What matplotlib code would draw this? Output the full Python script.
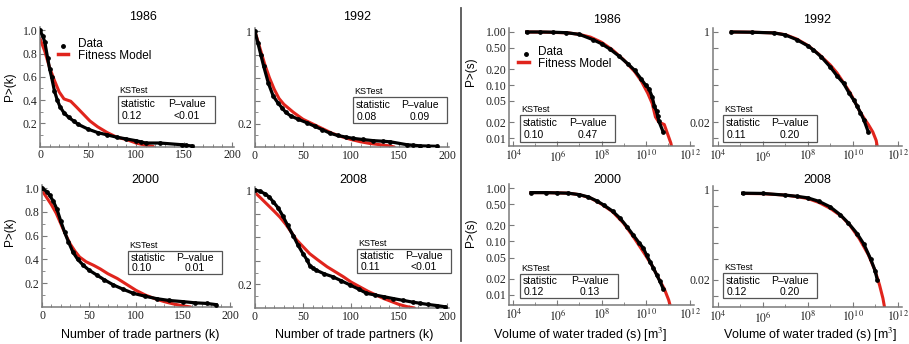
import numpy as np
import matplotlib
matplotlib.use('Agg')
import matplotlib.pyplot as plt
from matplotlib.patches import Rectangle
from matplotlib.lines import Line2D
from matplotlib.ticker import FixedLocator, NullLocator, FixedFormatter

plt.rcParams['font.family'] = ['Liberation Serif', 'DejaVu Serif']
plt.rcParams['mathtext.fontset'] = 'stix'
SANS = ['Liberation Sans', 'DejaVu Sans']

# ---------------- data ----------------
years = ['1986', '1992', '2000', '2008']

# Degree distributions P>(k)
k_1986_data = [0, 3, 5, 8, 10, 12, 15, 18, 21, 25, 30, 35, 40, 50, 60, 70, 80, 90, 100, 105, 110, 125, 148, 152, 158]
p_1986_data = [1.0, 0.95, 0.90, 0.76, 0.67, 0.60, 0.48, 0.40, 0.34, 0.29, 0.25, 0.22, 0.19, 0.15, 0.12, 0.10, 0.08, 0.065, 0.05, 0.04, 0.03, 0.03, 0.015, 0.01, 0.005]
k_1986_model = [0, 5, 10, 15, 20, 25, 32, 38, 45, 52, 60, 70, 80, 90, 100, 110, 118]
p_1986_model = [0.93, 0.82, 0.68, 0.57, 0.47, 0.41, 0.39, 0.34, 0.28, 0.22, 0.17, 0.12, 0.08, 0.06, 0.03, 0.01, 0.0]

k_1992_data = [0, 3, 6, 9, 14, 19, 24, 28, 32, 37, 45, 54, 62, 70, 78, 86, 95, 102, 112, 123, 133, 141, 158, 165, 172, 180, 190]
p_1992_data = [1.0, 0.90, 0.80, 0.70, 0.55, 0.44, 0.38, 0.34, 0.30, 0.27, 0.24, 0.21, 0.18, 0.15, 0.12, 0.10, 0.085, 0.075, 0.065, 0.055, 0.05, 0.045, 0.02, 0.015, 0.01, 0.008, 0.006]
k_1992_model = [0, 5, 10, 15, 20, 25, 30, 40, 50, 60, 70, 80, 90, 100, 110, 120, 130, 140, 145]
p_1992_model = [1.0, 0.86, 0.72, 0.60, 0.50, 0.42, 0.37, 0.30, 0.24, 0.20, 0.16, 0.12, 0.09, 0.065, 0.045, 0.03, 0.02, 0.01, 0.0]

k_2000_data = [0, 5, 8, 12, 16, 20, 24, 28, 33, 38, 44, 50, 58, 66, 76, 86, 97, 110, 122, 135, 150, 163, 175, 185]
p_2000_data = [1.0, 0.97, 0.94, 0.89, 0.82, 0.72, 0.63, 0.55, 0.46, 0.40, 0.35, 0.31, 0.27, 0.23, 0.185, 0.15, 0.115, 0.09, 0.07, 0.055, 0.045, 0.035, 0.03, 0.02]
k_2000_model = [0, 5, 10, 15, 20, 25, 30, 35, 40, 47, 55, 62, 70, 80, 90, 100, 110, 120, 130, 140, 150, 158]
p_2000_model = [0.98, 0.92, 0.86, 0.79, 0.70, 0.61, 0.53, 0.47, 0.42, 0.38, 0.35, 0.32, 0.28, 0.24, 0.19, 0.14, 0.10, 0.07, 0.045, 0.025, 0.01, 0.0]

k_2008_data = [0, 5, 10, 15, 19, 24, 29, 34, 40, 45, 50, 54, 57, 60, 64, 72, 81, 90, 99, 108, 116, 125, 134, 144, 154, 164, 172, 180, 190, 198]
p_2008_data = [1.0, 0.99, 0.97, 0.94, 0.90, 0.85, 0.78, 0.70, 0.61, 0.53, 0.46, 0.41, 0.36, 0.34, 0.32, 0.29, 0.265, 0.23, 0.195, 0.16, 0.125, 0.11, 0.096, 0.08, 0.065, 0.05, 0.04, 0.03, 0.02, 0.01]
k_2008_model = [0, 5, 10, 15, 20, 26, 32, 38, 43, 50, 57, 65, 75, 85, 92, 100, 109, 118, 126, 134, 142, 150, 158, 166]
p_2008_model = [0.98, 0.94, 0.90, 0.86, 0.82, 0.77, 0.71, 0.64, 0.58, 0.52, 0.46, 0.41, 0.35, 0.30, 0.265, 0.22, 0.18, 0.14, 0.11, 0.08, 0.055, 0.03, 0.012, 0.0]

# Volume distributions P>(s); volumes given as log10(s [m^3])
logs_1986_data = [4.6, 5.2, 5.8, 6.4, 7.0, 7.6, 8.0, 8.4, 8.8, 9.2, 9.5, 9.8, 10.0, 10.15, 10.3, 10.4, 10.5, 10.55, 10.6, 10.8]
ps_1986_data = [1.0, 1.0, 0.99, 0.97, 0.90, 0.72, 0.60, 0.47, 0.35, 0.25, 0.19, 0.13, 0.10, 0.085, 0.06, 0.04, 0.032, 0.026, 0.021, 0.013]
logs_1986_model = [4.6, 5.5, 6.5, 7.0, 7.5, 8.0, 8.5, 9.0, 9.5, 9.8, 10.1, 10.3, 10.45, 10.6, 10.85, 11.0, 11.15, 11.3]
ps_1986_model = [1.0, 0.99, 0.96, 0.90, 0.80, 0.64, 0.46, 0.30, 0.18, 0.12, 0.07, 0.045, 0.025, 0.02, 0.018, 0.012, 0.008, 0.004]

logs_1992_data = [4.6, 5.5, 6.5, 7.0, 7.5, 8.0, 8.25, 8.6, 9.0, 9.3, 9.6, 9.85, 10.05, 10.2, 10.35, 10.5, 10.7]
ps_1992_data = [1.0, 0.99, 0.96, 0.88, 0.72, 0.55, 0.46, 0.34, 0.22, 0.15, 0.107, 0.07, 0.052, 0.04, 0.03, 0.022, 0.013]
logs_1992_model = [4.6, 5.5, 6.5, 7.0, 7.5, 8.0, 8.5, 9.0, 9.3, 9.6, 9.9, 10.1, 10.3, 10.5, 10.7, 10.9, 11.05, 11.2]
ps_1992_model = [1.0, 0.99, 0.96, 0.89, 0.74, 0.56, 0.38, 0.24, 0.17, 0.11, 0.07, 0.048, 0.033, 0.024, 0.018, 0.013, 0.009, 0.004]

logs_2000_data = [4.8, 5.5, 6.0, 6.5, 7.0, 7.4, 7.8, 8.1, 8.5, 8.85, 9.15, 9.45, 9.7, 9.9, 10.05, 10.2, 10.35, 10.5, 10.65, 10.8]
ps_2000_data = [0.82, 0.82, 0.81, 0.80, 0.75, 0.68, 0.57, 0.48, 0.37, 0.27, 0.19, 0.13, 0.095, 0.075, 0.055, 0.042, 0.032, 0.024, 0.018, 0.013]
logs_2000_model = [4.8, 5.5, 6.5, 7.0, 7.5, 8.0, 8.5, 9.0, 9.4, 9.7, 10.0, 10.3, 10.6, 10.85, 11.05, 11.25]
ps_2000_model = [0.82, 0.82, 0.80, 0.75, 0.65, 0.50, 0.36, 0.22, 0.13, 0.085, 0.055, 0.035, 0.02, 0.013, 0.008, 0.004]

logs_2008_data = [5.1, 6.0, 7.0, 7.5, 8.0, 8.5, 9.0, 9.45, 9.8, 10.2, 10.5, 10.8, 11.0, 11.1]
ps_2008_data = [0.87, 0.86, 0.80, 0.76, 0.71, 0.61, 0.48, 0.34, 0.24, 0.15, 0.095, 0.05, 0.03, 0.02]
logs_2008_model = [5.1, 6.0, 7.0, 7.5, 8.0, 8.5, 9.0, 9.5, 9.9, 10.3, 10.7, 11.0, 11.2, 11.35, 11.5]
ps_2008_model = [0.86, 0.85, 0.80, 0.75, 0.69, 0.58, 0.45, 0.32, 0.21, 0.12, 0.06, 0.03, 0.016, 0.009, 0.004]

ks_stat_k = ['0.12', '0.08', '0.10', '0.11']
ks_pval_k = ['<0.01', '0.09', '0.01', '<0.01']
ks_stat_s = ['0.10', '0.11', '0.12', '0.12']
ks_pval_s = ['0.47', '0.20', '0.13', '0.20']

k_ticks = [0, 50, 100, 150, 200]
pk_ticks = [0.2, 0.4, 0.6, 0.8, 1.0]
s_tick_exps = [4, 6, 8, 10, 12]
ps_ticks = [1.0, 0.5, 0.2, 0.1, 0.05, 0.02, 0.01]
ps_tick_labels = ['1.00', '0.50', '0.20', '0.10', '0.05', '0.02', '0.01']

# ---------------- figure ----------------
W, H = 909, 344
fig = plt.figure(figsize=(W / 100, H / 100), dpi=100)

def rect(l, t, r, b):
    return [l / W, 1 - b / H, (r - l) / W, (b - t) / H]

def fx(x):
    return x / W

def fy(y):
    return 1 - y / H

RED = '#e0241c'
AXC = '#7a7a7a'

def style(ax):
    for s in ['top', 'right']:
        ax.spines[s].set_visible(False)
    for s in ['left', 'bottom']:
        ax.spines[s].set_color(AXC)
        ax.spines[s].set_linewidth(1.1)
    ax.tick_params(which='major', direction='in', length=3.5, width=0.8, color=AXC,
                   labelsize=8.5, pad=2, labelcolor='#222222')
    ax.tick_params(which='minor', direction='in', length=2, width=0.6, color=AXC)
    for lbl in ax.get_xticklabels() + ax.get_yticklabels():
        lbl.set_family(['Liberation Serif', 'DejaVu Serif'])
    ax.patch.set_alpha(0)

k_sets = [(k_1986_data, p_1986_data, k_1986_model, p_1986_model),
          (k_1992_data, p_1992_data, k_1992_model, p_1992_model),
          (k_2000_data, p_2000_data, k_2000_model, p_2000_model),
          (k_2008_data, p_2008_data, k_2008_model, p_2008_model)]
s_sets = [(logs_1986_data, ps_1986_data, logs_1986_model, ps_1986_model),
          (logs_1992_data, ps_1992_data, logs_1992_model, ps_1992_model),
          (logs_2000_data, ps_2000_data, logs_2000_model, ps_2000_model),
          (logs_2008_data, ps_2008_data, logs_2008_model, ps_2008_model)]

k_boxes = [(40, 27, 234, 146.5), (255, 28, 449, 147), (42, 184.5, 232, 307), (255, 186.5, 449, 308)]
s_boxes = [(509, 28, 694, 146), (713, 28, 902, 146), (509, 184, 694, 305), (713, 186, 902, 307)]
s_ylow = [-2.15, -2.15, -2.19, -2.21]

for i, (box, ds) in enumerate(zip(k_boxes, k_sets)):
    ax = fig.add_axes(rect(*box))
    kd, pd, km, pm = ds
    ax.plot(km, pm, color=RED, lw=2.2, solid_capstyle='round', zorder=2)
    ax.plot(kd, pd, color='black', lw=2.3, marker='o', ms=2.4, zorder=3)
    ax.set_xlim(0, 202)
    ax.set_ylim(0, 1.03)
    ax.xaxis.set_major_locator(FixedLocator(k_ticks))
    ax.xaxis.set_minor_locator(FixedLocator([v for v in range(10, 200, 10) if v % 50]))
    ax.yaxis.set_major_locator(FixedLocator(pk_ticks))
    ax.yaxis.set_minor_locator(FixedLocator([0.1, 0.3, 0.5, 0.7, 0.9]))
    ax.set_xticklabels([str(t) for t in k_ticks])
    if i in (0, 2):
        ax.set_yticklabels(['0.2', '0.4', '0.6', '0.8', '1.0'])
    else:
        ax.set_yticklabels(['0.2', '', '', '', '1'])
    style(ax)

for i, (box, ds) in enumerate(zip(s_boxes, s_sets)):
    ax = fig.add_axes(rect(*box))
    ld, pd, lm, pm = ds
    ax.plot(10 ** np.array(lm), pm, color=RED, lw=2.2, zorder=2)
    ax.plot(10 ** np.array(ld), pd, color='black', lw=2.3, marker='o', ms=2.4, zorder=3)
    ax.set_xscale('log')
    ax.set_yscale('log')
    ax.set_xlim(10 ** 3.8 if i in (0, 2) else 10 ** 3.78, 10 ** 12.2)
    ax.set_ylim(10 ** s_ylow[i], 10 ** 0.075)
    ax.xaxis.set_major_locator(FixedLocator([10.0 ** e for e in s_tick_exps]))
    ax.xaxis.set_minor_locator(FixedLocator([10.0 ** e for e in (5, 7, 9, 11)]))
    ax.xaxis.set_major_formatter(FixedFormatter([r'$10^{%d}$' % e for e in s_tick_exps]))
    ax.xaxis.set_minor_formatter(FixedFormatter(['', '', '', '']))
    ax.yaxis.set_major_locator(FixedLocator(ps_ticks))
    ax.yaxis.set_minor_locator(NullLocator())
    if i in (0, 2):
        ax.yaxis.set_major_formatter(FixedFormatter(ps_tick_labels))
    else:
        ax.yaxis.set_major_formatter(FixedFormatter(['1', '', '', '', '', '0.02', '']))
    style(ax)

# titles
k_title_pos = [(143, 17), (357, 17), (145, 180), (353, 180)]
s_title_pos = [(607, 20), (817, 20), (607, 180), (817, 180)]
for yr, (x, y) in zip(years, k_title_pos):
    fig.text(fx(x), fy(y), yr, ha='center', va='center', fontsize=9, family=SANS)
for yr, (x, y) in zip(years, s_title_pos):
    fig.text(fx(x), fy(y), yr, ha='center', va='center', fontsize=9, family=SANS)

# y labels
for (x, y) in [(10, 87), (10, 232)]:
    fig.text(fx(x), fy(y), 'P>(k)', rotation=90, ha='center', va='center', fontsize=8.5, family=SANS)
for (x, y) in [(471, 72), (471, 233)]:
    fig.text(fx(x), fy(y), 'P>(s)', rotation=90, ha='center', va='center', fontsize=8.5, family=SANS)

# x labels
for x in (140, 354):
    fig.text(fx(x), fy(335), 'Number of trade partners (k)', ha='center', va='center', fontsize=9, family=SANS)
for x in (580, 810):
    fig.text(fx(x), fy(335), 'Volume of water traded (s) [m$^{3}$]', ha='center', va='center', fontsize=9, family=SANS)

# legends
def legend(xd, yd, xl0, xl1, yl, xt):
    fig.add_artist(Line2D([fx(xd)], [fy(yd)], marker='o', ms=2.5, color='black', transform=fig.transFigure))
    fig.add_artist(Line2D([fx(xl0), fx(xl1)], [fy(yl), fy(yl)], color=RED, lw=2.5, transform=fig.transFigure))
    fig.text(fx(xt), fy(yd - 2), 'Data', ha='left', va='center', fontsize=8.5, family=SANS)
    fig.text(fx(xt), fy(yl + 2), 'Fitness Model', ha='left', va='center', fontsize=8.5, family=SANS)

legend(63, 46, 58, 68, 54, 78)
legend(526, 54, 518, 529, 62, 538)

# KS test boxes
def ks_box(x0, y0, x1, y1, stat, pv):
    fig.text(fx(x0 + 1), fy(y0 - 1), 'KSTest', ha='left', va='bottom', fontsize=6.5, family=SANS)
    fig.add_artist(Rectangle((fx(x0), fy(y1)), (x1 - x0) / W, (y1 - y0) / H,
                             transform=fig.transFigure, fill=False, ec='#555555', lw=0.9))
    h = y1 - y0
    w = x1 - x0
    pc = x0 + 0.71 * w
    fig.text(fx(x0 + 3), fy(y0 + 0.3 * h), 'statistic', ha='left', va='center', fontsize=7.5, family=SANS)
    fig.text(fx(pc), fy(y0 + 0.3 * h), 'P\u2013value', ha='center', va='center', fontsize=7.5, family=SANS)
    fig.text(fx(x0 + 4), fy(y0 + 0.75 * h), stat, ha='left', va='center', fontsize=7.5, family=SANS)
    fig.text(fx(pc), fy(y0 + 0.75 * h), pv, ha='center', va='center', fontsize=7.5, family=SANS)

k_ks_boxes = [(118, 96, 215, 123), (353, 97, 447, 123), (128, 251, 222, 274), (357, 249, 451, 273)]
s_ks_boxes = [(520, 115, 615, 142), (723, 115, 817, 142), (520, 274, 618, 298), (723, 273, 817, 298)]
for b, st, pv in zip(k_ks_boxes, ks_stat_k, ks_pval_k):
    ks_box(*b, st, pv)
for b, st, pv in zip(s_ks_boxes, ks_stat_s, ks_pval_s):
    ks_box(*b, st, pv)

# divider
fig.add_artist(Line2D([fx(461), fx(461)], [fy(8), fy(341)], color='#555555', lw=1.3, transform=fig.transFigure))

fig.savefig('out.png', dpi=100)
